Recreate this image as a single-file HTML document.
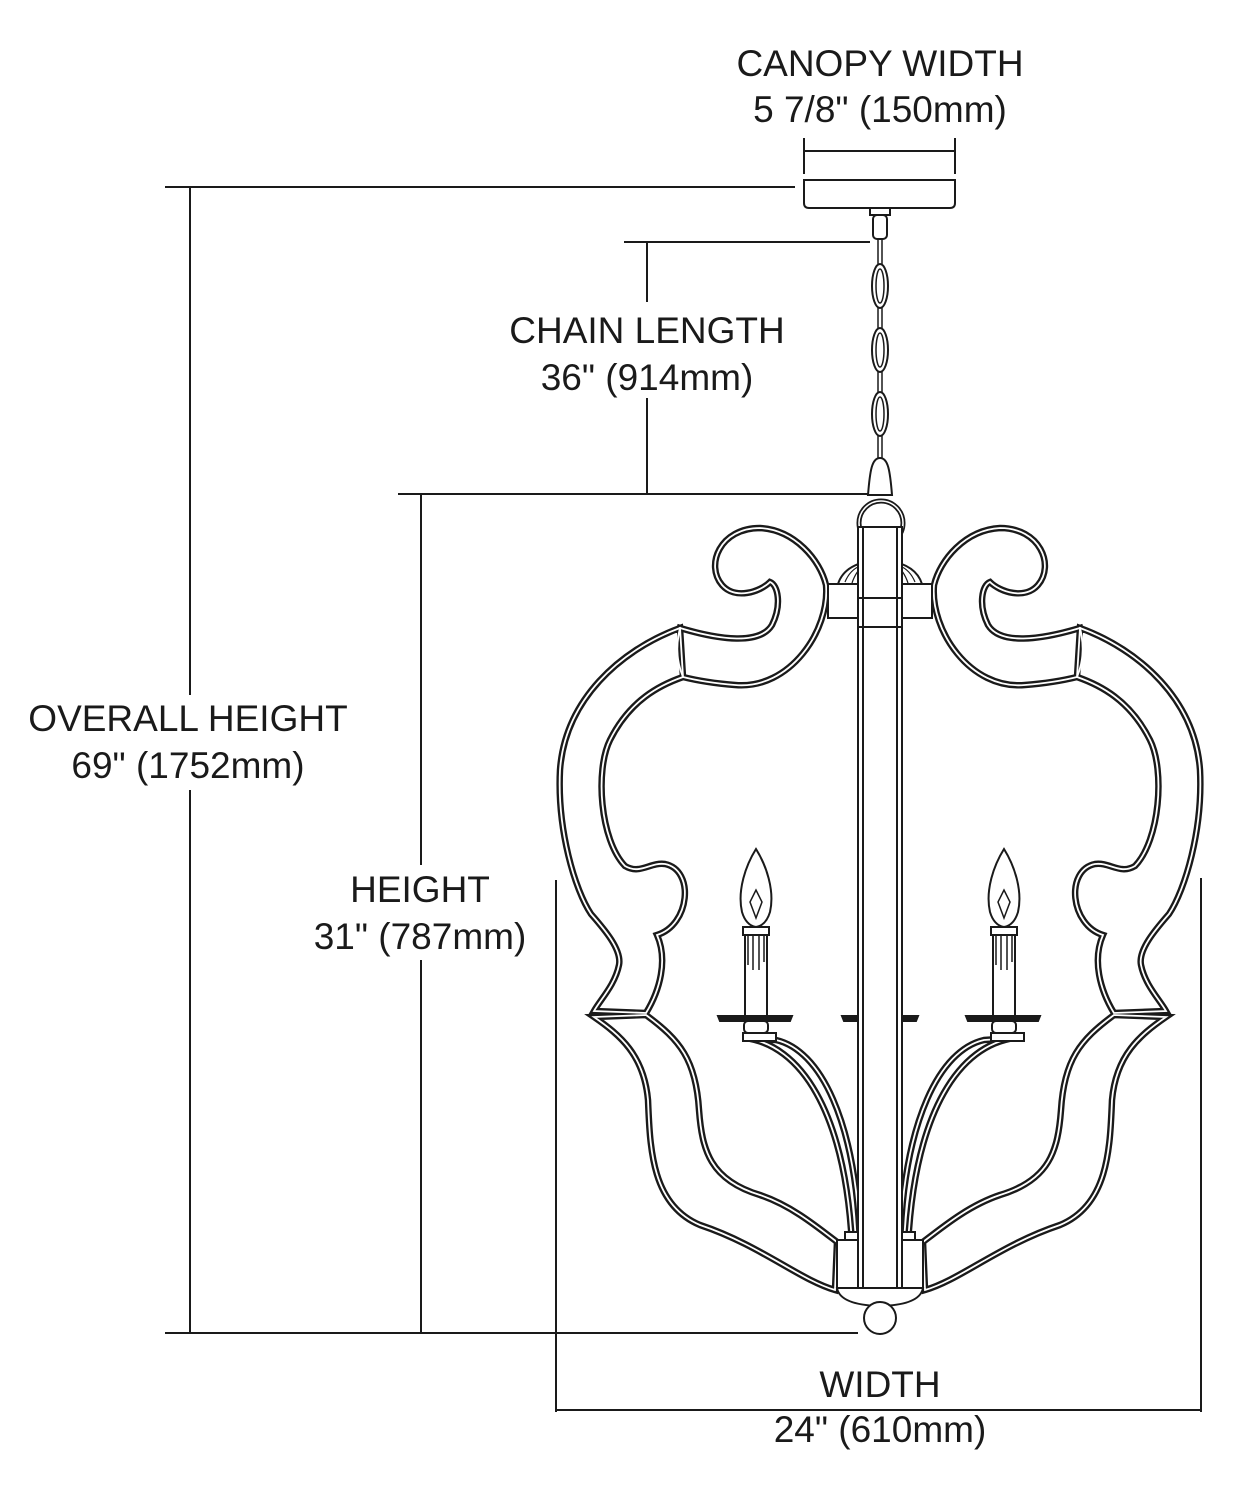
<!DOCTYPE html>
<html><head><meta charset="utf-8"><style>
html,body{margin:0;padding:0;background:#fff}
svg{display:block}
text{font-family:"Liberation Sans",Arial,sans-serif;font-size:37px;fill:#1a1a1a;text-anchor:middle}
</style></head><body>
<svg width="1234" height="1500" viewBox="0 0 1234 1500" xmlns="http://www.w3.org/2000/svg">
<defs>
<g id="half">
  <path d="M680,628 C720,640 760,645 772,625 C782,605 778,585 770,582 C760,592 735,600 722,585 C705,565 720,528 760,528 C795,530 820,560 826,585 C830,630 790,690 735,685 C710,683 695,680 683,677 C676,660 676,645 680,628 Z"/>
  <path d="M680,628 C620,650 565,700 560,770 C557,830 575,890 591,914 C605,930 622,950 619,965 C615,985 600,1000 594,1011 L646,1013 C660,990 668,960 657,935 C690,925 695,870 665,864 C650,862 640,875 625,866 C600,840 595,770 610,740 C630,700 660,685 683,677 Z"/>
  <path d="M594,1017 C620,1035 644,1055 648,1100 C650,1150 652,1205 700,1225 C760,1245 800,1280 835,1290 L837,1242 C815,1225 790,1205 760,1195 C710,1180 702,1150 699,1110 C696,1060 680,1040 646,1015 Z"/>
  <path d="M745,1038 C800,1045 845,1110 852,1245 L860,1245 C856,1120 820,1050 776,1040 Z"/>
</g>
</defs>

<g stroke="#1a1a1a" stroke-width="2" fill="none">
  <line x1="804" y1="138" x2="804" y2="174"/>
  <line x1="955" y1="138" x2="955" y2="174"/>
  <line x1="804" y1="151" x2="955" y2="151"/>
  <line x1="165" y1="187" x2="795" y2="187"/>
  <line x1="190" y1="187" x2="190" y2="1333"/>
  <line x1="165" y1="1333" x2="858" y2="1333"/>
  <line x1="624" y1="242" x2="870" y2="242"/>
  <line x1="647" y1="242" x2="647" y2="302"/>
  <line x1="647" y1="398" x2="647" y2="494"/>
  <line x1="398" y1="494" x2="870" y2="494"/>
  <line x1="421" y1="494" x2="421" y2="1333"/>
  <line x1="556" y1="880" x2="556" y2="1412"/>
  <line x1="1201" y1="878" x2="1201" y2="1412"/>
  <line x1="556" y1="1410" x2="1201" y2="1410"/>
</g>
<rect x="300" y="865" width="240" height="95" fill="#fff"/>
<rect x="20" y="695" width="340" height="95" fill="#fff"/>

<text x="880" y="76">CANOPY WIDTH</text>
<text x="880" y="122">5 7/8" (150mm)</text>
<text x="647" y="343">CHAIN LENGTH</text>
<text x="647" y="390">36" (914mm)</text>
<text x="188" y="731">OVERALL HEIGHT</text>
<text x="188" y="778">69" (1752mm)</text>
<text x="420" y="902">HEIGHT</text>
<text x="420" y="949">31" (787mm)</text>
<text x="880" y="1397">WIDTH</text>
<text x="880" y="1442">24" (610mm)</text>

<g stroke="#1a1a1a" stroke-width="2" fill="#fff">
  <path d="M804,180 L955,180 L955,203 Q955,208 950,208 L809,208 Q804,208 804,203 Z"/>
  <rect x="870" y="208" width="20" height="7"/>
  <rect x="873" y="215" width="14" height="24" rx="4"/>
  <line x1="878" y1="238" x2="878" y2="470" stroke-width="1.5"/>
  <line x1="882" y1="238" x2="882" y2="470" stroke-width="1.5"/>
  <ellipse cx="880" cy="286" rx="8" ry="22"/>
  <ellipse cx="880" cy="286" rx="4" ry="17" stroke-width="1.5"/>
  <ellipse cx="880" cy="350" rx="8" ry="22"/>
  <ellipse cx="880" cy="350" rx="4" ry="17" stroke-width="1.5"/>
  <ellipse cx="880" cy="414" rx="8" ry="22"/>
  <ellipse cx="880" cy="414" rx="4" ry="17" stroke-width="1.5"/>
  <path d="M880,458 C872,458 870,470 868,495 L892,495 C890,470 888,458 880,458 Z"/>
  <circle cx="881" cy="523" r="22" stroke-width="5"/>
  <circle cx="881" cy="523" r="22" stroke="#fff" stroke-width="1.5" fill="none"/>
  <path d="M838,584 Q845,562 880,560 Q915,562 922,584 Z"/>
  <path d="M845,582 Q850,570 860,566 M852,583 Q856,571 864,565 M900,566 Q910,570 915,582 M896,565 Q904,571 908,583" fill="none" stroke-width="1.2"/>
</g>

<g stroke="#1a1a1a" fill="#fff">
  <use href="#half" stroke-width="6.5"/>
  <g transform="translate(1760,0) scale(-1,1)">
    <use href="#half" stroke-width="6.5"/>
  </g>
  <g fill="none" stroke="#fff">
    <use href="#half" stroke-width="1.8"/>
    <g transform="translate(1760,0) scale(-1,1)"><use href="#half" stroke-width="1.8"/></g>
  </g>
</g>

<g stroke="#1a1a1a" stroke-width="2" fill="#fff">
  <g id="candle">
    <path d="M756,849 C746,865 737,890 742,912 C745,922 750,926 756,927 C762,926 767,922 770,912 C775,890 766,865 756,849 Z"/>
    <path d="M756,890 L750,902 L756,918 L762,902 Z" stroke-width="1.5"/>
    <rect x="743" y="927" width="26" height="8"/>
    <rect x="745" y="935" width="22" height="82"/>
    <path d="M748,935 L748,965 M753,935 L753,970 M759,935 L759,970 M764,935 L764,962" stroke-width="1.5"/>
    <path d="M718,1016 L792,1016 L790,1021 L720,1021 Z" fill="#1a1a1a"/>
    <rect x="744" y="1021" width="24" height="12" rx="4"/>
    <rect x="743" y="1033" width="33" height="8"/>
  </g>
  <use href="#candle" transform="translate(248,0)"/>
  <path d="M842,1016 L918,1016 L916,1021 L844,1021 Z" fill="#1a1a1a"/>
  <rect x="858" y="527" width="44" height="773"/>
  <line x1="863" y1="527" x2="863" y2="1300"/>
  <line x1="897" y1="527" x2="897" y2="1300"/>
  <rect x="828" y="584" width="30" height="34"/>
  <rect x="902" y="584" width="30" height="34"/>
  <line x1="858" y1="598" x2="902" y2="598"/>
  <line x1="858" y1="627" x2="902" y2="627"/>
  <path d="M837,1288 Q840,1305 880,1306 Q920,1305 923,1288 Z"/>
  <rect x="837" y="1240" width="21" height="48"/>
  <rect x="902" y="1240" width="21" height="48"/>
  <rect x="845" y="1232" width="13" height="8"/>
  <rect x="902" y="1232" width="13" height="8"/>
  <line x1="858" y1="1288" x2="902" y2="1288"/>
  <circle cx="880" cy="1318" r="16"/>
</g>
</svg>
</body></html>
